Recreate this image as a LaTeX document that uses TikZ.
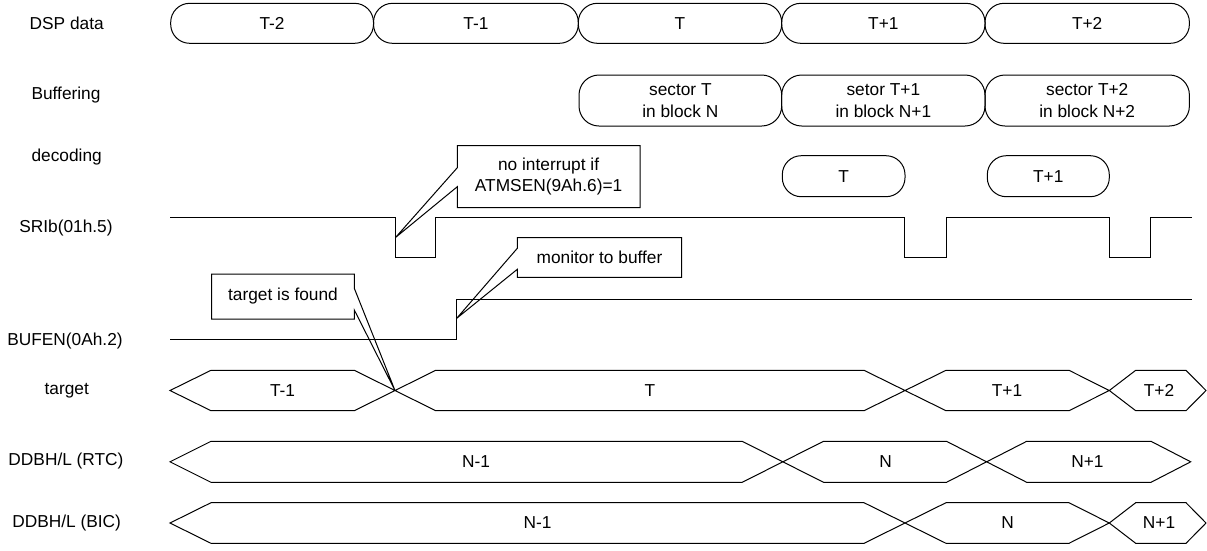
\documentclass[tikz,border=0pt]{standalone}
\usepackage{fontspec}
\setmainfont{Liberation Sans}
\begin{document}
\begin{tikzpicture}[x=1pt,y=-1pt,
  lbl/.style={font=\fontsize{17.3}{21.7}\selectfont, inner sep=0pt, align=center},
  dspbox/.style={draw, rectangle, rounded corners=19pt, line width=1pt, inner sep=0pt, minimum height=40pt, lbl},
  bufbox/.style={draw, rectangle, rounded corners=20pt, line width=1pt, inner sep=0pt, minimum height=51pt, lbl},
  decbox/.style={draw, rectangle, rounded corners=19pt, line width=1pt, inner sep=0pt, minimum height=41pt, lbl},
  wave/.style={draw, line width=1pt, line join=miter},
  bus/.style={draw, line width=1pt, line join=miter},
  callout/.style={draw, line width=1pt, line join=miter}
]
\useasboundingbox (0,0) rectangle (1207,550);

% row labels
\node[lbl] (lDSP) at (66.7,23.3) {DSP data};
\node[lbl] (lBuf) at (66,95) {Buffering};
\node[lbl] (lDec) at (66.7,156.7) {decoding};
\node[lbl] (lSRI) at (66,228.3) {SRIb(01h.5)};
\node[lbl] (lBUF) at (65,340.7) {BUFEN(0Ah.2)};
\node[lbl] (lTgt) at (66.7,390.7) {target};
\node[lbl] (lRTC) at (66,461) {DDBH/L (RTC)};
\node[lbl] (lBIC) at (66.7,523.3) {DDBH/L (BIC)};

% DSP data
\node[dspbox, minimum width=202.8pt] (d1) at (272.1,23.3) {T-2};
\node[dspbox, minimum width=204.8pt] (d2) at (475.9,23.3) {T-1};
\node[dspbox, minimum width=203.4pt] (d3) at (680,23.3) {T};
\node[dspbox, minimum width=203.3pt] (d4) at (883.35,23.3) {T+1};
\node[dspbox, minimum width=204.4pt] (d5) at (1087.2,23.3) {T+2};

% Buffering
\node[bufbox, minimum width=202.7pt] (b1) at (680.35,100.5) {sector T\\in block N};
\node[bufbox, minimum width=203.3pt] (b2) at (883.35,100.5) {setor T+1\\in block N+1};
\node[bufbox, minimum width=204.4pt] (b3) at (1087.2,100.5) {sector T+2\\in block N+2};

% decoding
\node[decbox, minimum width=122.7pt] (c1) at (843.65,176.2) {T};
\node[decbox, minimum width=122pt] (c2) at (1048.3,176.2) {T+1};

% SRIb waveform
\draw[wave] (170,217.8) -| (395.5,257.3) -| (435.7,217.8) -| (904.3,257.3) -| (946,217.8)
  -| (1109.3,257.3) -| (1150.7,217.8) -- (1191.7,217.8);

% BUFEN waveform
\draw[wave] (170,339.3) -| (456.7,299) -- (1191.7,299);

% target bus
\draw[bus] (170,390.5) -- (211,370.3) -- (354.3,370.3) -- (435.7,410.7) -- (864,410.7) -- (946,370.3)
  -- (1069,370.3) -- (1109.3,390.5) -- (1135.7,410.7) -- (1186,410.7) -- (1206,390.5) -- (1186,370.3)
  -- (1135.7,370.3) -- (1109.3,390.5) -- (1069,410.7) -- (946,410.7) -- (864,370.3) -- (435.7,370.3)
  -- (354.3,410.7) -- (211,410.7) -- cycle;
\node[lbl] (t1) at (282.5,390.5) {T-1};
\node[lbl] (t2) at (650,390.5) {T};
\node[lbl] (t3) at (1007,390.5) {T+1};
\node[lbl] (t4) at (1159,390.5) {T+2};

% RTC bus
\draw[bus] (170,461.8) -- (211,441.3) -- (742.2,441.3) -- (823.5,482.3) -- (946.5,482.3) -- (1026.7,441.3)
  -- (1151,441.3) -- (1190.7,461.8) -- (1151,482.3) -- (1026.7,482.3) -- (946.5,441.3) -- (823.5,441.3)
  -- (742.2,482.3) -- (211,482.3) -- cycle;
\node[lbl] (r1) at (476,461.8) {N-1};
\node[lbl] (r2) at (885.5,461.8) {N};
\node[lbl] (r3) at (1087.5,461.8) {N+1};

% BIC bus
\draw[bus] (170,523) -- (211,502.7) -- (864,502.7) -- (946,543.3) -- (1069,543.3) -- (1109.3,523)
  -- (1135.7,543.3) -- (1186,543.3) -- (1206,523) -- (1186,502.7) -- (1135.7,502.7) -- (1109.3,523)
  -- (1069,502.7) -- (946,502.7) -- (864,543.3) -- (211,543.3) -- cycle;
\node[lbl] (k1) at (537.5,523) {N-1};
\node[lbl] (k2) at (1007.5,523) {N};
\node[lbl] (k3) at (1159,523) {N+1};

% callouts
\coordinate (tipA) at (395.5,237.5);
\coordinate (tipB) at (456.7,318.3);
\coordinate (tipC) at (395,390.5);
\draw[callout] (457.3,145.7) -- (640,145.7) -- (640,207.5) -- (457.3,207.5) -- (457.3,186.7)
  -- (tipA) -- (457.3,167.7) -- cycle;
\node[lbl] (nA) at (548.6,176.5) {no interrupt if\\ATMSEN(9Ah.6)=1};
\draw[callout] (517.3,237.7) -- (681.7,237.7) -- (681.7,277.3) -- (517.3,277.3) -- (517.3,269.3)
  -- (tipB) -- (517.3,248.3) -- cycle;
\node[lbl] (nB) at (599.5,257.5) {monitor to buffer};
\draw[callout] (211.7,274) -- (354.3,274) -- (354.3,288.3) -- (tipC) -- (354.3,310) -- (354.3,319)
  -- (211.7,319) -- cycle;
\node[lbl] (nC) at (283,296.5) {target is found};
\end{tikzpicture}
\end{document}
